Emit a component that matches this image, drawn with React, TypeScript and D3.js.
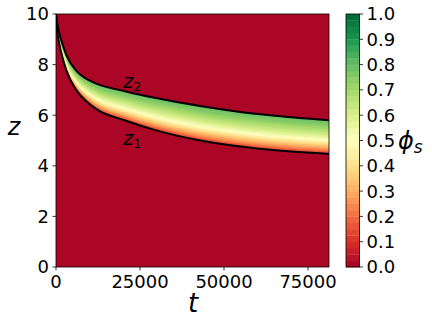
import * as d3 from "d3";

const WIDTH = 432;
const HEIGHT = 327;
const PLOT = { left: 56, right: 329, top: 14, bottom: 267 };
const CBAR = { left: 346, right: 359.5 };
const FONT = "DejaVu Sans, sans-serif";

// interface positions
const T = [0, 300, 1000, 2000, 3000, 6000, 9000, 12000, 20800, 29800, 42900, 54800, 63700, 81250];
const Z1 = [10, 9.4, 8.82, 8.25, 7.8, 7.0, 6.55, 6.24, 5.78, 5.4, 5.0, 4.76, 4.63, 4.47];
const Z2 = [10, 9.7, 9.22, 8.78, 8.4, 7.76, 7.44, 7.25, 6.94, 6.68, 6.36, 6.13, 6.0, 5.8];

// phi_s across the layer, from z1 (frac 0) to z2 (frac 1)
const PROFILE_FRAC = [0, 0.1, 0.25, 0.4, 0.55, 0.7, 0.85, 1];
const PROFILE_PHI = [0.1, 0.22, 0.36, 0.5, 0.6, 0.68, 0.75, 0.8];

const T_MAX = 81250;
const X_TICKS = [0, 25000, 50000, 75000];
const Y_TICKS = [0, 2, 4, 6, 8, 10];
const C_TICKS = d3.range(0, 11).map((d) => d / 10);
const N_LEVELS = 40;

const LABELS = [
  { name: "z", sub: "2", t: 20000, z: 7.08 },
  { name: "z", sub: "1", t: 20000, z: 4.84 },
];

const RDYLGN = ["#a50026", "#d73027", "#f46d43", "#fdae61", "#fee08b", "#ffffbf",
  "#d9ef8b", "#a6d96a", "#66bd63", "#1a9850", "#006837"];
const cmap = d3
  .scaleLinear<string>()
  .domain(d3.range(11).map((i) => i / 10))
  .range(RDYLGN)
  .interpolate(d3.interpolateRgb);

export default function App() {
  const x = d3.scaleLinear().domain([0, T_MAX]).range([PLOT.left, PLOT.right]);
  const y = d3.scaleLinear().domain([0, 10]).range([PLOT.bottom, PLOT.top]);
  const c = d3.scaleLinear().domain([0, 1]).range([PLOT.bottom, PLOT.top]);
  const phiToFrac = d3.scaleLinear().domain(PROFILE_PHI).range(PROFILE_FRAC).clamp(true);
  const phiMin = PROFILE_PHI[0];
  const phiMax = PROFILE_PHI[PROFILE_PHI.length - 1];

  const idx = T.map((_, i) => i);
  const bands = d3.range(N_LEVELS).flatMap((k) => {
    const lo = k / N_LEVELS;
    const hi = (k + 1) / N_LEVELS;
    if (hi <= phiMin || lo >= phiMax) return [];
    const f = phiToFrac(Math.max(lo, phiMin));
    const area = d3
      .area<number>()
      .curve(d3.curveMonotoneX)
      .x((i) => x(T[i]))
      .y0((i) => y(Z1[i] + f * (Z2[i] - Z1[i])))
      .y1((i) => y(Z2[i]));
    return [{ k, d: area(idx) as string, color: cmap((k + 0.5) / N_LEVELS) }];
  });

  const line = (zs: number[]) =>
    d3
      .line<number>()
      .curve(d3.curveMonotoneX)
      .x((i) => x(T[i]))
      .y((i) => y(zs[i]))(idx) as string;

  return (
    <div style={{ position: "absolute", left: 0, top: 0 }}>
      <svg width={WIDTH} height={HEIGHT} style={{ display: "block", background: "#fff" }}>
        <clipPath id="plot-clip">
          <rect x={PLOT.left} y={PLOT.top} width={PLOT.right - PLOT.left} height={PLOT.bottom - PLOT.top} />
        </clipPath>
        <rect
          x={PLOT.left}
          y={PLOT.top}
          width={PLOT.right - PLOT.left}
          height={PLOT.bottom - PLOT.top}
          fill={cmap(0.5 / N_LEVELS)}
        />
        <g clipPath="url(#plot-clip)">
          {bands.map((b) => (
            <path key={b.k} d={b.d} fill={b.color} stroke="none" />
          ))}
          <path d={line(Z1)} fill="none" stroke="#000" strokeWidth={2} />
          <path d={line(Z2)} fill="none" stroke="#000" strokeWidth={2} />
        </g>
        {LABELS.map((l) => (
          <text key={l.sub} x={x(l.t)} y={y(l.z)} fontFamily={FONT} fontSize={19} fontStyle="oblique" fill="#000">
            {l.name}
            <tspan fontSize={13} fontStyle="normal" dy={3}>{l.sub}</tspan>
          </text>
        ))}
        <rect
          x={PLOT.left}
          y={PLOT.top}
          width={PLOT.right - PLOT.left}
          height={PLOT.bottom - PLOT.top}
          fill="none"
          stroke="#000"
          strokeWidth={0.8}
        />

        {/* x axis */}
        {X_TICKS.map((t) => (
          <g key={t} transform={`translate(${x(t)},${PLOT.bottom})`}>
            <line y2={3.5} stroke="#000" strokeWidth={0.8} />
            <text y={21} textAnchor="middle" fontFamily={FONT} fontSize={18} fill="#000">
              {t}
            </text>
          </g>
        ))}
        <text x={193} y={312} textAnchor="middle" fontFamily={FONT} fontSize={26} fontStyle="oblique">
          t
        </text>

        {/* y axis */}
        {Y_TICKS.map((v) => (
          <g key={v} transform={`translate(${PLOT.left},${y(v)})`}>
            <line x2={-3.5} stroke="#000" strokeWidth={0.8} />
            <text x={-7} dy="0.36em" textAnchor="end" fontFamily={FONT} fontSize={18} fill="#000">
              {v}
            </text>
          </g>
        ))}
        <text x={14} y={135} textAnchor="middle" fontFamily={FONT} fontSize={24} fontStyle="oblique">
          z
        </text>

        {/* colorbar */}
        {d3.range(N_LEVELS).map((k) => (
          <rect
            key={k}
            x={CBAR.left}
            y={c((k + 1) / N_LEVELS)}
            width={CBAR.right - CBAR.left}
            height={c(k / N_LEVELS) - c((k + 1) / N_LEVELS) + 0.3}
            fill={cmap((k + 0.5) / N_LEVELS)}
          />
        ))}
        <rect
          x={CBAR.left}
          y={PLOT.top}
          width={CBAR.right - CBAR.left}
          height={PLOT.bottom - PLOT.top}
          fill="none"
          stroke="#000"
          strokeWidth={0.8}
        />
        {C_TICKS.map((v) => (
          <g key={v} transform={`translate(${CBAR.right},${c(v)})`}>
            <line x2={3.5} stroke="#000" strokeWidth={0.8} />
            <text x={7} dy="0.36em" fontFamily={FONT} fontSize={18} fill="#000">
              {v.toFixed(1)}
            </text>
          </g>
        ))}
        <text x={398} y={149} fontFamily={FONT} fontSize={24} fontStyle="oblique">
          ϕ<tspan fontSize={17} dy={4}>s</tspan>
        </text>
      </svg>
    </div>
  );
}
